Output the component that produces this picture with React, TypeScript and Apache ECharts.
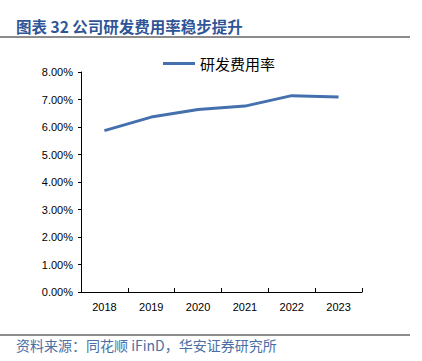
import React, { useEffect, useRef } from "react";
import * as echarts from "echarts";

const years = ["2018", "2019", "2020", "2021", "2022", "2023"];
const rdRate = [5.87, 6.36, 6.64, 6.76, 7.14, 7.09];
const seriesName = "研发费用率";
const titleText = "图表 32 公司研发费用率稳步提升";
const sourceText = "资料来源：同花顺 iFinD，华安证券研究所";

export default function App() {
  const ref = useRef<HTMLDivElement>(null);
  useEffect(() => {
    document.body.style.margin = "0";
    const chart = echarts.init(ref.current!, null, { renderer: "svg" });
    chart.setOption({
      animation: false,
      backgroundColor: "#ffffff",
      legend: {
        top: 51,
        left: 158,
        itemWidth: 32,
        itemHeight: 3,
        itemGap: 6,
        icon: "rect",
        textStyle: { fontFamily: "Noto Sans CJK SC", fontSize: 15, color: "#000", padding: [0, 0, 0, 0] },
        data: [seriesName],
      },
      grid: { left: 81, right: 60, top: 72, bottom: 69, containLabel: false },
      xAxis: {
        type: "category",
        data: years,
        boundaryGap: true,
        axisLine: { lineStyle: { color: "#000", width: 1 } },
        axisTick: { show: true, inside: true, length: 4, lineStyle: { color: "#000" } },
        axisLabel: { color: "#000", fontFamily: "Liberation Sans", fontSize: 11, margin: 9 },
      },
      yAxis: {
        type: "value",
        min: 0,
        max: 8,
        interval: 1,
        splitLine: { show: false },
        axisLine: { show: true, lineStyle: { color: "#000", width: 1 } },
        axisTick: { show: true, length: 3, lineStyle: { color: "#000" } },
        axisLabel: {
          color: "#000",
          fontFamily: "Liberation Sans",
          fontSize: 11,
          margin: 8,
          formatter: (v: number) => v.toFixed(2) + "%",
        },
      },
      series: [
        {
          name: seriesName,
          type: "line",
          data: rdRate,
          symbol: "none",
          lineStyle: { color: "#4470AE", width: 3 },
          itemStyle: { color: "#4470AE" },
        },
      ],
      graphic: [
        {
          type: "text",
          left: 16,
          top: 18,
          style: {
            text: titleText,
            fill: "#2F5597",
            fontFamily: "Noto Sans CJK SC",
            fontWeight: "bold",
            fontSize: 15.5,
          },
        },
        {
          type: "line",
          shape: { x1: 0, y1: 37, x2: 410, y2: 37 },
          style: { stroke: "#8c8c8c", lineWidth: 2 },
        },
        {
          type: "line",
          shape: { x1: 0, y1: 335, x2: 410, y2: 335 },
          style: { stroke: "#8c8c8c", lineWidth: 2 },
        },
        {
          type: "text",
          left: 16,
          top: 338,
          style: {
            text: sourceText,
            fill: "#4A6FA5",
            fontFamily: "Noto Sans CJK SC",
            fontSize: 14,
          },
        },
      ],
    });
    return () => chart.dispose();
  }, []);
  return <div ref={ref} style={{ position: "absolute", left: 0, top: 0, width: 422, height: 361 }} />;
}
